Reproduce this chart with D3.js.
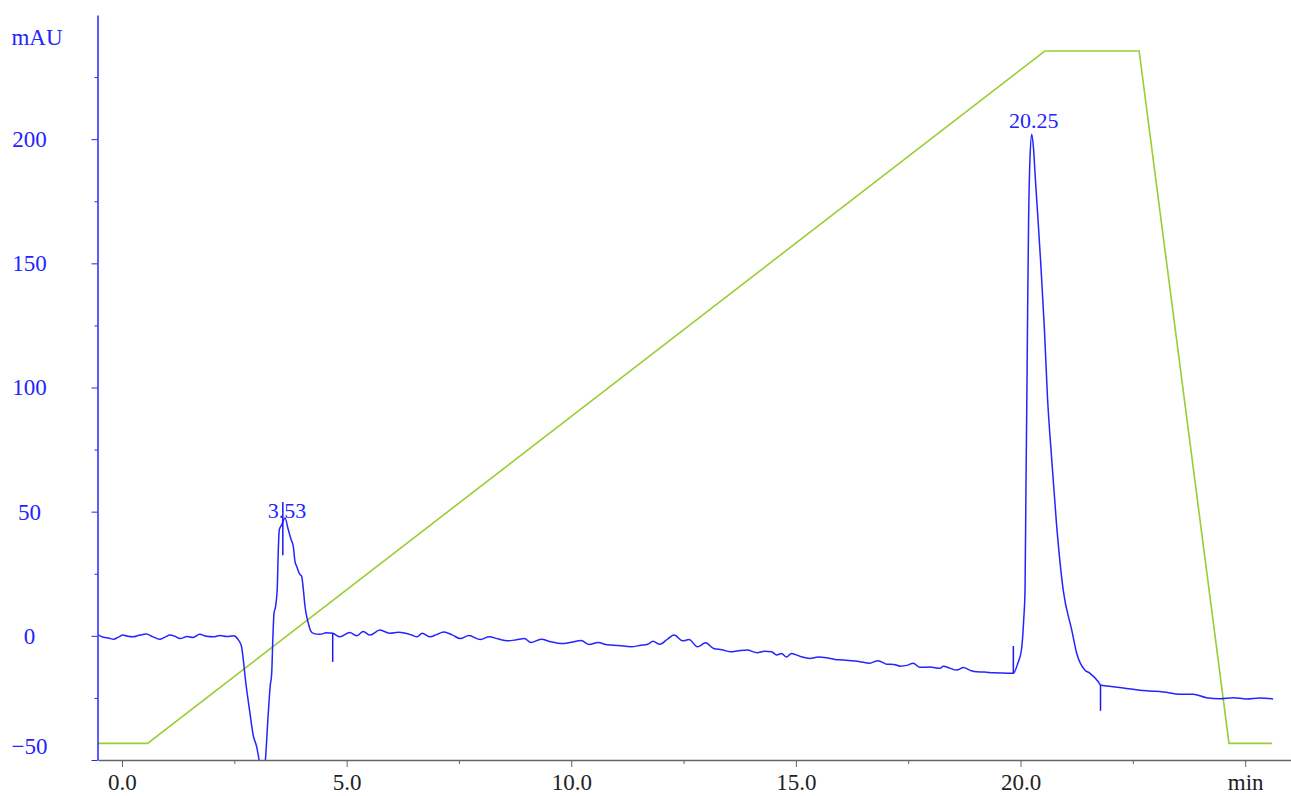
<!DOCTYPE html>
<html>
<head>
<meta charset="utf-8">
<script src="https://cdn.jsdelivr.net/npm/d3@7"></script>
<style>
  body { margin: 0; background: #fff; }
  svg { display: block; }
</style>
</head>
<body>
<div id="drawing"></div>
<script>
// chromatogram trace (min, mAU)
var blueTime = [-0.52,-0.41,-0.30,-0.19,-0.08,0.02,0.13,0.24,0.38,0.54,0.68,0.84,0.95,1.07,1.18,1.29,1.45,1.58,1.73,1.88,2.03,2.18,2.33,2.48,2.59,2.66,
  2.693,2.75,2.849,2.92,2.998,3.07,3.12,3.183,3.256,3.30,3.332,3.36,3.383,3.42,3.457,3.48,3.501,3.554,3.628,3.702,3.76,3.813,3.85,3.889,3.95,4.0,4.04,4.073,4.147,4.2,4.26,
  4.40,4.55,4.69,4.85,5.07,5.22,5.37,5.52,5.74,5.97,6.15,6.31,6.45,6.57,6.68,6.86,7.00,7.16,7.35,7.53,7.72,7.98,8.17,8.38,8.58,8.78,8.96,9.10,9.33,9.55,9.77,
  10.0,10.22,10.40,10.59,10.8,11.05,11.33,11.55,11.70,11.82,11.97,12.15,12.29,12.48,12.62,12.81,12.99,13.17,13.35,13.54,13.72,13.91,14.14,14.30,14.46,14.57,14.68,14.79,14.90,
  15.10,15.31,15.50,15.68,15.87,16.05,16.25,16.42,16.64,16.83,17.02,17.18,17.32,17.47,17.61,17.76,17.98,18.21,18.28,18.42,18.58,18.73,18.88,19.02,19.20,19.40,19.62,19.84,
  19.94,20.02,20.07,20.10,20.12,20.14,20.16,20.18,20.21,20.25,20.29,20.33,20.38,20.45,20.53,20.60,20.69,20.80,20.95,21.14,21.25,21.43,21.54,21.73,21.78,
  22.06,22.36,22.66,22.88,23.18,23.55,23.84,24.14,24.44,24.73,25.03,25.33,25.62];
var blueMAU = [0.3,-0.6,-0.9,-1.4,-0.5,0.3,-0.2,-0.4,0.2,0.7,-0.3,-1.4,-0.6,0.3,-0.2,-1.1,-0.3,-0.7,0.6,-0.2,-0.4,0.1,-0.3,0.0,-1.6,-4.3,
  -8.5,-18,-31.2,-40,-44.7,-52,-58,-52,-31.2,-20,-15.1,0,9.0,12,19.8,35,42.7,44.7,47.4,42.7,39,36.0,30,28.0,25,23.9,18,11.9,5.1,2,1.0,
  0.6,1.2,1.0,-0.4,1.3,0.0,1.7,0.3,2.3,1.0,1.4,1.0,0.3,-0.4,1.0,-0.4,0.5,1.5,0.4,-1.1,0.1,-1.5,-0.4,-1.3,-2.0,-1.6,-1.1,-2.7,-1.4,-2.4,-3.1,
  -2.6,-1.9,-3.5,-2.7,-3.6,-3.9,-4.4,-3.8,-3.4,-2.2,-3.4,-1.2,0.3,-2.0,-1.5,-4.4,-2.8,-5.1,-5.6,-6.4,-6.0,-5.7,-6.8,-6.2,-6.4,-7.7,-7.1,-8.5,-7.1,
  -8.3,-9.1,-8.5,-8.8,-9.5,-9.7,-10.0,-10.4,-11.0,-10.0,-11.4,-11.5,-12.2,-11.9,-11.0,-12.7,-12.6,-13.1,-12.2,-13.0,-13.8,-12.8,-13.9,-14.5,-14.6,-14.9,-15.0,-15.1,
  -11.0,-5.7,6.3,18.4,58.6,94.8,135,168,192,202,196,184,170,150,124,96,72.0,45.2,18.4,2.3,-7.0,-13.8,-15.0,-18.5,-19.8,
  -20.5,-21.2,-21.9,-22.2,-22.6,-23.5,-23.5,-24.9,-25.3,-24.9,-25.4,-25.0,-25.4];

// gradient trace, drawn on the same mAU scale
var greenTime = [-0.534, 0.57, 20.54, 22.64, 24.64, 25.60];
var greenMAU = [-43.3, -43.3, 235.5, 235.5, -43.3, -43.3];

// integration marks
var markTime = [3.58, 4.69, 19.84, 21.78];
var markFrom = [32.4, 1.0, -15.1, -19.8];
var markTo = [53.9, -10.5, -4.1, -30.2];

// peak labels
var peakTime = [3.63, 20.25];
var peakMAU = [47.4, 202];
var peakLabel = ["3.53", "20.25"];

var xMajor = [0, 5, 10, 15, 20, 25];
var xMinor = [2.5, 7.5, 12.5, 17.5, 22.5];
var yMajor = [-50, 0, 50, 100, 150, 200];
var yMinor = [-25, 25, 75, 125, 175, 225];

var width = 1291, height = 796;
var blue = "#2424ff";
var serif = '"Liberation Serif", "DejaVu Serif", serif';

var svg = d3.select("#drawing").append("svg")
  .attr("width", width)
  .attr("height", height);

var x = d3.scaleLinear().domain([-0.534, 26.02]).range([98, 1291]);
var y = d3.scaleLinear().domain([-50, 250]).range([760, 15]);

svg.append("clipPath").attr("id", "plot")
  .append("rect").attr("x", 98).attr("y", 15).attr("width", 1291 - 98).attr("height", 760 - 15);

var plot = svg.append("g").attr("clip-path", "url(#plot)");

var greenData = greenTime.map((t, i) => ({t: t, v: greenMAU[i]}));
var blueData = blueTime.map((t, i) => ({t: t, v: blueMAU[i]}));

plot.append("path")
  .attr("d", d3.line().x(d => x(d.t)).y(d => y(d.v))(greenData))
  .style("fill", "none")
  .style("stroke", "#9acd32")
  .style("stroke-width", 1.6);

plot.append("path")
  .attr("d", d3.line().x(d => x(d.t)).y(d => y(d.v)).curve(d3.curveMonotoneX)(blueData))
  .style("fill", "none")
  .style("stroke", blue)
  .style("stroke-width", 1.5);

plot.selectAll(".mark").data(markTime).enter().append("line")
  .attr("x1", d => x(d)).attr("x2", d => x(d))
  .attr("y1", (d, i) => y(markFrom[i]))
  .attr("y2", (d, i) => y(markTo[i]))
  .style("stroke", "#1a1aee")
  .style("stroke-width", 1.5);

svg.selectAll(".peak").data(peakTime).enter().append("text")
  .attr("x", d => x(d) + 2)
  .attr("y", (d, i) => y(peakMAU[i]) - (i === 0 ? 0 : 6))
  .attr("text-anchor", "middle")
  .style("font-family", serif)
  .style("font-size", "22px")
  .style("fill", blue)
  .text((d, i) => peakLabel[i]);

// x axis
var xAxis = svg.append("g")
  .attr("transform", "translate(0,760)")
  .call(d3.axisBottom(x).tickValues(xMajor).tickSize(7).tickSizeOuter(0).tickPadding(7)
    .tickFormat(d => d === 25 ? "min" : d.toFixed(1)));
xAxis.select(".domain").style("stroke", "#666").style("stroke-width", 1.5);
xAxis.selectAll(".tick line").style("stroke", "#666");
xAxis.selectAll("text")
  .style("font-family", serif)
  .style("font-size", "23px")
  .style("fill", "#222");
svg.append("g").attr("transform", "translate(0,760)")
  .call(d3.axisBottom(x).tickValues(xMinor).tickSize(4).tickFormat(""))
  .call(g => g.select(".domain").remove())
  .selectAll("line").style("stroke", "#666");

// y axis
var yAxis = svg.append("g")
  .attr("transform", "translate(97.5,0)")
  .call(d3.axisLeft(y).tickValues(yMajor).tickSize(6).tickSizeOuter(0).tickFormat(d3.format("d")));
yAxis.select(".domain").style("stroke", blue).style("stroke-width", 1.5);
yAxis.selectAll(".tick line").style("stroke", blue);
yAxis.selectAll("text")
  .attr("x", -68)
  .attr("text-anchor", "middle")
  .attr("dy", d => d === -50 ? "-0.28em" : "0.32em")
  .style("font-family", serif)
  .style("font-size", "23px")
  .style("fill", blue);
svg.append("g").attr("transform", "translate(97.5,0)")
  .call(d3.axisLeft(y).tickValues(yMinor).tickSize(3).tickFormat(""))
  .call(g => g.select(".domain").remove())
  .selectAll("line").style("stroke", blue);

svg.append("text")
  .attr("x", 37).attr("y", 45)
  .attr("text-anchor", "middle")
  .style("font-family", serif)
  .style("font-size", "23px")
  .style("fill", blue)
  .text("mAU");
</script>
</body>
</html>
